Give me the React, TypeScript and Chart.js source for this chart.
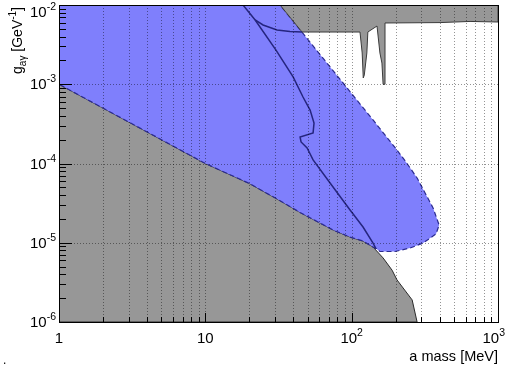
import React, { useEffect, useRef } from 'react';
import { Chart, registerables } from 'chart.js';

Chart.register(...registerables);

const FONT = '"Liberation Sans", Arial, Helvetica, sans-serif';

const X_MIN = 1;
const X_MAX = 1000;
const Y_MIN = 1e-6;
const Y_MAX = 1e-2;

// Lower grey excluded region: its upper boundary (mass in MeV, coupling in GeV^-1)
const lowerMass = [1, 10, 19.9, 30.3, 37.3, 44.4, 74.6, 97.5, 119.6, 140, 164, 189, 204, 259, 280];
const lowerG = [1e-3, 1e-4, 5.62e-5, 3.64e-5, 2.91e-5, 2.41e-5, 1.45e-5, 1.18e-5, 1.05e-5, 8.83e-6, 6.43e-6, 4.5e-6, 3.4e-6, 1.9e-6, 1e-6];

// Blue sensitivity region: top edge, right edge and bulge (then follows the grey boundary back)
const blueMass = [1, 32.4, 88.7, 140, 204, 239, 280, 360, 396, 377, 308, 251, 198, 156, 145];
const blueG = [1e-2, 1e-2, 1e-3, 3.54e-4, 1.48e-4, 1e-4, 6.56e-5, 2.75e-5, 1.67e-5, 1.29e-5, 9.93e-6, 8.59e-6, 7.76e-6, 7.76e-6, 8.6e-6];

// Upper grey excluded region
const upperMass = [32.4, 45.8, 114, 118, 120, 122, 127, 129, 149, 156, 161, 164, 169, 169, 402, 644, 1000, 1000];
const upperG = [1e-2, 4.56e-3, 4.56e-3, 2.48e-3, 1.2e-3, 1.31e-3, 2.48e-3, 4.56e-3, 5.43e-3, 2.48e-3, 1.85e-3, 1e-3, 1e-3, 5.93e-3, 6.0e-3, 6.2e-3, 6.1e-3, 1e-2];

// Dark blue contour: main curve and short branch
const curveMass = [18.1, 21.9, 30.4, 39.8, 46.5, 52.0, 55.3, 54.5, 44.4, 45.1, 49.6, 54.5, 71.2, 97.5, 119.6, 140, 147];
const curveG = [1e-2, 6.47e-3, 2.7e-3, 1.24e-3, 6.9e-4, 4.73e-4, 3.24e-4, 2.43e-4, 2.16e-4, 1.87e-4, 1.57e-4, 1.11e-4, 5.68e-5, 2.59e-5, 1.58e-5, 9.9e-6, 8.34e-6];
const branchMass = [21.9, 24.8, 30.9, 37.9, 45.8];
const branchG = [6.47e-3, 5.6e-3, 4.84e-3, 4.64e-3, 4.56e-3];

// Axis ticks and labels
const xDecades = [1, 10, 100, 1000];
const xTickBases = ['1', '10', '10', '10'];
const xTickExps = ['', '', '2', '3'];
const yDecades = [1e-2, 1e-3, 1e-4, 1e-5, 1e-6];
const yTickExps = ['-2', '-3', '-4', '-5', '-6'];
const xTitle = 'a mass [MeV]';
const yTitleParts: { t: string; k: 'n' | 'sub' | 'sup' }[] = [
  { t: 'g', k: 'n' },
  { t: 'aγ', k: 'sub' },
  { t: ' [GeV', k: 'n' },
  { t: '-1', k: 'sup' },
  { t: ']', k: 'n' },
];

const LABEL = 15;
const LABEL_EXP = 10.5;
const TITLE = 14.5;
const TITLE_SMALL = 10;

type Part = { t: string; size: number; dy: number };

function measureParts(ctx: CanvasRenderingContext2D, parts: Part[]) {
  let w = 0;
  for (const p of parts) {
    ctx.font = `${p.size}px ${FONT}`;
    w += ctx.measureText(p.t).width;
  }
  return w;
}

function drawParts(ctx: CanvasRenderingContext2D, parts: Part[], x: number, y: number) {
  let cx = x;
  for (const p of parts) {
    ctx.font = `${p.size}px ${FONT}`;
    ctx.fillText(p.t, cx, y + p.dy);
    cx += ctx.measureText(p.t).width;
  }
}

function pts(xs: number[], ys: number[]) {
  return xs.map((x, i) => ({ x, y: ys[i] }));
}

const rootPlugin = {
  id: 'rootStyle',
  afterDatasetsDraw(chart: any) {
    const { ctx, chartArea: a } = chart;
    const xs = chart.scales.x;
    const ys = chart.scales.y;
    const L = Math.round(a.left);
    const R = Math.round(a.right);
    const T = Math.round(a.top);
    const B = Math.round(a.bottom);

    // dotted grid on top of fills
    ctx.save();
    ctx.beginPath();
    ctx.rect(L, T, R - L, B - T);
    ctx.clip();
    ctx.strokeStyle = 'rgba(0,0,0,0.42)';
    ctx.lineWidth = 1;
    ctx.setLineDash([1, 2]);
    for (const d of xDecades.slice(0, -1)) {
      for (let k = 1; k <= 9; k++) {
        const v = d * k;
        if (v <= X_MIN || v >= X_MAX) continue;
        const px = Math.round(xs.getPixelForValue(v)) + 0.5;
        ctx.beginPath();
        ctx.moveTo(px, T);
        ctx.lineTo(px, B);
        ctx.stroke();
      }
    }
    for (const d of yDecades) {
      if (d <= Y_MIN || d >= Y_MAX) continue;
      const py = Math.round(ys.getPixelForValue(d)) + 0.5;
      ctx.beginPath();
      ctx.moveTo(L, py);
      ctx.lineTo(R, py);
      ctx.stroke();
    }
    ctx.restore();

    ctx.save();
    ctx.strokeStyle = '#000';
    ctx.lineWidth = 1;
    ctx.setLineDash([]);
    // x ticks
    for (const d of xDecades.slice(0, -1)) {
      for (let k = 1; k <= 9; k++) {
        const v = d * k;
        const px = Math.round(xs.getPixelForValue(v)) + 0.5;
        const len = k === 1 ? 9 : 5;
        ctx.beginPath();
        ctx.moveTo(px, B);
        ctx.lineTo(px, B - len);
        ctx.stroke();
      }
    }
    // y ticks
    for (const d of yDecades.slice(0, -1).reverse()) {
      for (let k = 1; k <= 9; k++) {
        const v = (d * k) / 10;
        const py = Math.round(ys.getPixelForValue(v)) + 0.5;
        const len = k === 1 ? 13 : 7;
        ctx.beginPath();
        ctx.moveTo(L, py);
        ctx.lineTo(L + len, py);
        ctx.stroke();
      }
    }
    // frame
    ctx.strokeRect(L + 0.5, T + 0.5, R - L, B - T);

    // tick labels
    ctx.fillStyle = '#000';
    ctx.textBaseline = 'alphabetic';
    yDecades.forEach((d, i) => {
      const py = ys.getPixelForValue(d);
      const parts: Part[] = [
        { t: '10', size: LABEL, dy: 0 },
        { t: yTickExps[i], size: LABEL_EXP, dy: -7 },
      ];
      const w = measureParts(ctx, parts);
      let base = py + 5;
      if (base < 17) base = 17;
      drawParts(ctx, parts, L - 3 - w, base);
    });
    xDecades.forEach((d, i) => {
      const px = xs.getPixelForValue(d);
      const parts: Part[] = [{ t: xTickBases[i], size: LABEL, dy: 0 }];
      if (xTickExps[i]) parts.push({ t: xTickExps[i], size: LABEL_EXP, dy: -7 });
      const w = measureParts(ctx, parts);
      let sx = px - w / 2;
      if (sx + w > chart.width - 4) sx = chart.width - 4 - w;
      drawParts(ctx, parts, sx, B + 21);
    });

    // x title
    ctx.font = `${TITLE}px ${FONT}`;
    const tw = ctx.measureText(xTitle).width;
    ctx.fillText(xTitle, R - tw, B + 39);

    // y title (rotated)
    const yParts: Part[] = yTitleParts.map((p) => ({
      t: p.t,
      size: p.k === 'n' ? 14 : TITLE_SMALL,
      dy: p.k === 'sub' ? 4 : p.k === 'sup' ? -6 : 0,
    }));
    const yw = measureParts(ctx, yParts);
    ctx.save();
    ctx.translate(22, 5);
    ctx.rotate(-Math.PI / 2);
    drawParts(ctx, yParts, -2 - yw, 0);
    ctx.restore();

    // small stray dot at bottom-left
    ctx.font = `12px ${FONT}`;
    ctx.fillText('.', 3, 364);
    ctx.restore();
  },
};

export default function App() {
  const ref = useRef<HTMLCanvasElement | null>(null);

  useEffect(() => {
    if (!ref.current) return;
    const lowerPoly = [
      ...pts(lowerMass, lowerG),
      { x: X_MIN, y: Y_MIN },
      { x: X_MIN, y: lowerG[0] },
    ];
    const shared = pts(lowerMass, lowerG).filter((p) => p.x <= 140).reverse();
    const bluePoly = [...pts(blueMass, blueG), ...shared, { x: blueMass[0], y: blueG[0] }];
    const upperPoly = [...pts(upperMass, upperG), { x: upperMass[0], y: upperG[0] }];

    const chart = new Chart(ref.current, {
      type: 'scatter',
      data: {
        datasets: [
          {
            label: 'lower excluded',
            data: lowerPoly,
            showLine: true,
            pointRadius: 0,
            borderColor: '#2a2a2a',
            borderWidth: 1,
            backgroundColor: '#979797',
            fill: 'shape',
            order: 3,
          },
          {
            label: 'sensitivity',
            data: bluePoly,
            showLine: true,
            pointRadius: 0,
            borderColor: '#2b2b90',
            borderWidth: 1.2,
            borderDash: [5, 3],
            backgroundColor: '#7f7ffc',
            fill: 'shape',
            order: 2,
          },
          {
            label: 'upper excluded',
            data: upperPoly,
            showLine: true,
            pointRadius: 0,
            borderColor: '#3a3a3a',
            borderWidth: 1,
            backgroundColor: '#979797',
            fill: 'shape',
            order: 1,
          },
          {
            label: 'contour',
            data: pts(curveMass, curveG),
            showLine: true,
            pointRadius: 0,
            borderColor: '#25257f',
            borderWidth: 1.5,
            fill: false,
            order: 0,
          },
          {
            label: 'contour branch',
            data: pts(branchMass, branchG),
            showLine: true,
            pointRadius: 0,
            borderColor: '#25257f',
            borderWidth: 1.5,
            fill: false,
            order: 0,
          },
        ],
      },
      options: {
        animation: false,
        responsive: true,
        maintainAspectRatio: false,
        layout: { padding: { left: 59, right: 11, top: 5, bottom: 48 } },
        plugins: {
          legend: { display: false },
          tooltip: { enabled: false },
        },
        elements: { line: { tension: 0 } },
        scales: {
          x: { type: 'logarithmic', min: X_MIN, max: X_MAX, display: false },
          y: { type: 'logarithmic', min: Y_MIN, max: Y_MAX, display: false },
        },
      },
      plugins: [rootPlugin],
    });
    return () => chart.destroy();
  }, []);

  return (
    <div style={{ position: 'fixed', left: 0, top: 0, width: 509, height: 370, background: '#fff' }}>
      <canvas ref={ref} />
    </div>
  );
}
